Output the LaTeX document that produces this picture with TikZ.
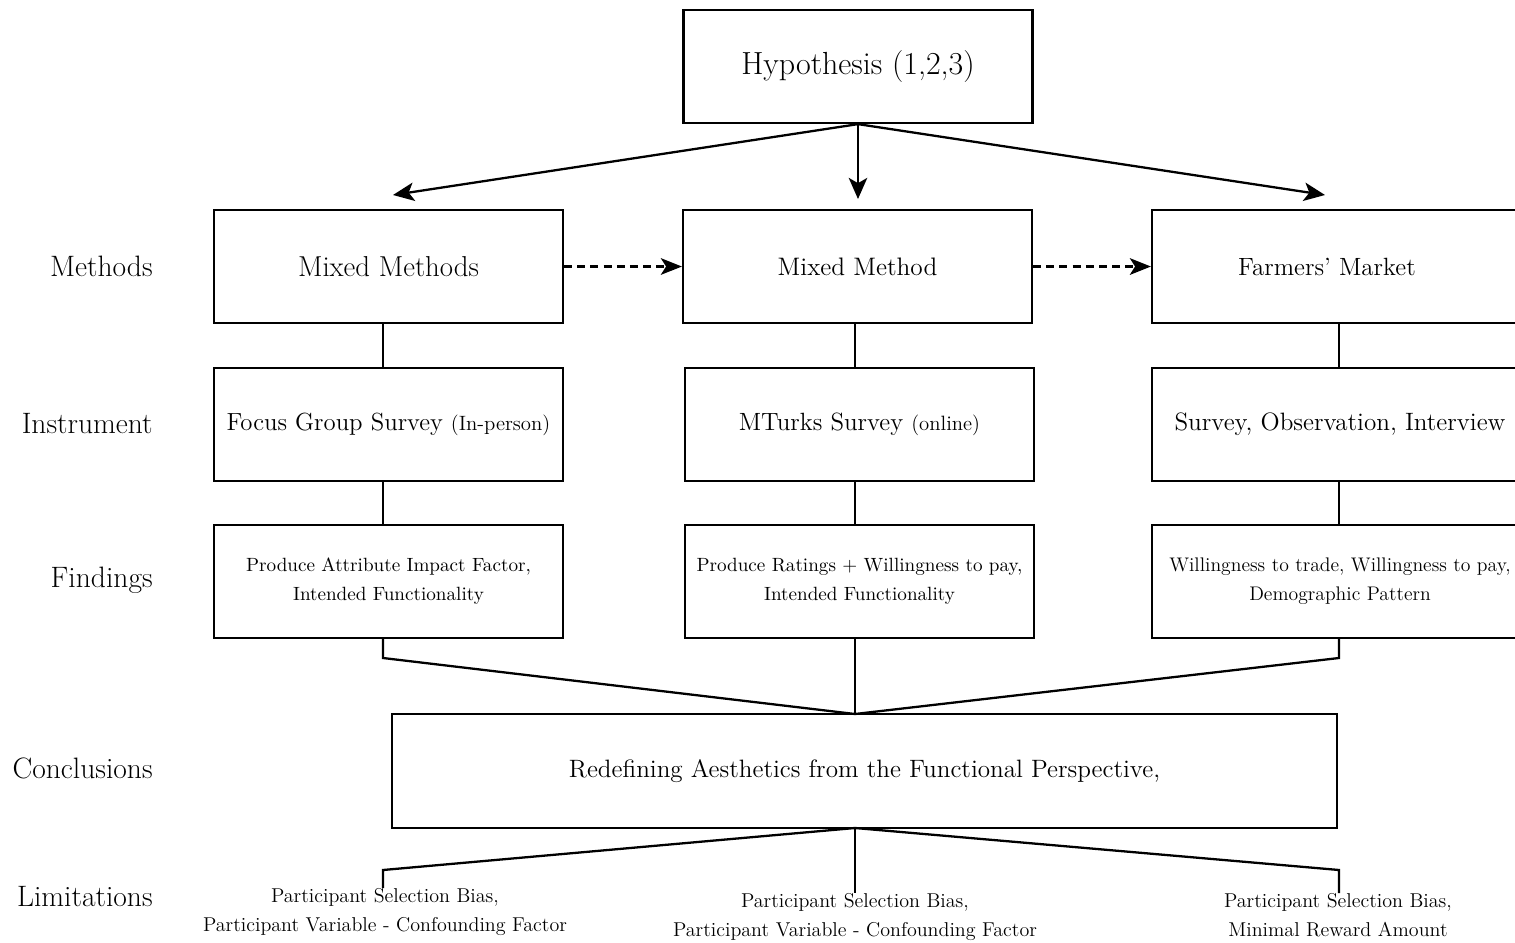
\documentclass[tikz,border=0pt]{standalone}
\usetikzlibrary{arrows.meta}
\begin{document}
\begin{tikzpicture}[x=0.02cm,y=-0.02cm,
  box/.style={draw, line width=1.3pt, minimum width=6.98cm, minimum height=2.26cm, inner sep=0pt, align=center},
  rbox/.style={box, minimum width=7.52cm},
  conn/.style={line width=1.3pt},
  arr/.style={line width=1.3pt, -{Stealth[length=12pt,width=10.5pt,inset=3pt]}},
  darr/.style={line width=1.3pt, dash pattern=on 4.5pt off 3pt, -{Stealth[length=12pt,width=9.5pt,inset=3pt]}},
  lab/.style={anchor=east, inner sep=0pt, font=\fontsize{16.8}{20}\selectfont},
  fnt/.style={font=\fontsize{10.9}{16.4}\selectfont},
  lim/.style={anchor=north, inner sep=0pt, align=center, font=\fontsize{11.4}{16.4}\selectfont},
]
\useasboundingbox (0,0) rectangle (1515,943);
\clip (0,0) rectangle (1515,943);

% Hypothesis
\node[box, font=\fontsize{18.2}{22}\selectfont] (hyp) at (858,66.5) {Hypothesis (1,2,3)};

% Methods row
\node[box, font=\fontsize{16.4}{20}\selectfont] (m1) at (388.5,266.5) {Mixed Methods};
\node[box, font=\fontsize{14.4}{18}\selectfont] (m2) at (857.5,266.5) {Mixed Method};
\node[rbox, font=\fontsize{14.2}{18}\selectfont] (m3) at (1340,266.5) {Farmers' Market\hspace{0.52cm}};

% Instrument row
\node[box, font=\fontsize{14.1}{18}\selectfont] (i1) at (388.5,424.5) {Focus Group Survey {\fontsize{11.8}{14}\selectfont(In-person)}};
\node[box, font=\fontsize{14.2}{18}\selectfont] (i2) at (859.5,424.5) {MTurks Survey {\fontsize{11.8}{14}\selectfont(online)}};
\node[rbox, font=\fontsize{14.3}{18}\selectfont] (i3) at (1340,424.5) {Survey, Observation, Interview};

% Findings row
\node[box, fnt] (f1) at (388.5,581.5) {Produce Attribute Impact Factor,\\Intended Functionality};
\node[box, fnt] (f2) at (859.5,581.5) {Produce Ratings + Willingness to pay,\\Intended Functionality};
\node[rbox, font=\fontsize{11.2}{16.4}\selectfont] (f3) at (1340,581.5) {Willingness to trade, Willingness to pay,\\Demographic Pattern};

% Conclusion
\node[box, minimum width=18.9cm, minimum height=2.28cm, font=\fontsize{14.3}{18}\selectfont] (conc) at (864.5,771) {Redefining Aesthetics from the Functional Perspective,};

% Limitations
\node[lim] (l1) at (385,888) {Participant Selection Bias,\\Participant Variable - Confounding Factor};
\node[lim] (l2) at (855,893) {Participant Selection Bias,\\Participant Variable - Confounding Factor};
\node[lim] (l3) at (1338,893) {Participant Selection Bias,\\Minimal Reward Amount};

% Row labels
\node[lab] (lm) at (153,266) {Methods};
\node[lab] (li) at (153,424) {Instrument};
\node[lab] (lf) at (153,580) {Findings};
\node[lab] (lc) at (153,768) {Conclusions};
\node[lab] (ll) at (153,897) {Limitations};

% Arrows from hypothesis
\coordinate (a1) at (393,195);
\coordinate (a2) at (858,199);
\coordinate (a3) at (1325,195);
\draw[arr] (hyp.south) -- (a1);
\draw[arr] (hyp.south) -- (a2);
\draw[arr] (hyp.south) -- (a3);

% Dashed arrows
\draw[darr] (m1.east) -- (m2.west);
\draw[darr] (m2.east) -- (m3.west);

% Vertical connectors
\draw[conn] (m1.south -| 383,0) -- (i1.north -| 383,0);
\draw[conn] (i1.south -| 383,0) -- (f1.north -| 383,0);
\draw[conn] (m2.south -| 855,0) -- (i2.north -| 855,0);
\draw[conn] (i2.south -| 855,0) -- (f2.north -| 855,0);
\draw[conn] (m3.south -| 1339,0) -- (i3.north -| 1339,0);
\draw[conn] (i3.south -| 1339,0) -- (f3.north -| 1339,0);

% Findings to conclusion
\coordinate (cj) at (855,714);
\draw[conn] (f1.south -| 383,0) -- (383,658) -- (cj);
\draw[conn] (f2.south -| 855,0) -- (cj);
\draw[conn] (f3.south -| 1339,0) -- (1339,658) -- (cj);

% Conclusion to limitations
\coordinate (cb) at (855,828);
\draw[conn] (cb) -- (383,870) -- (l1.north -| 383,0);
\draw[conn] (cb) -- (l2.north);
\draw[conn] (cb) -- (1339,870) -- (l3.north -| 1339,0);
\end{tikzpicture}
\end{document}
